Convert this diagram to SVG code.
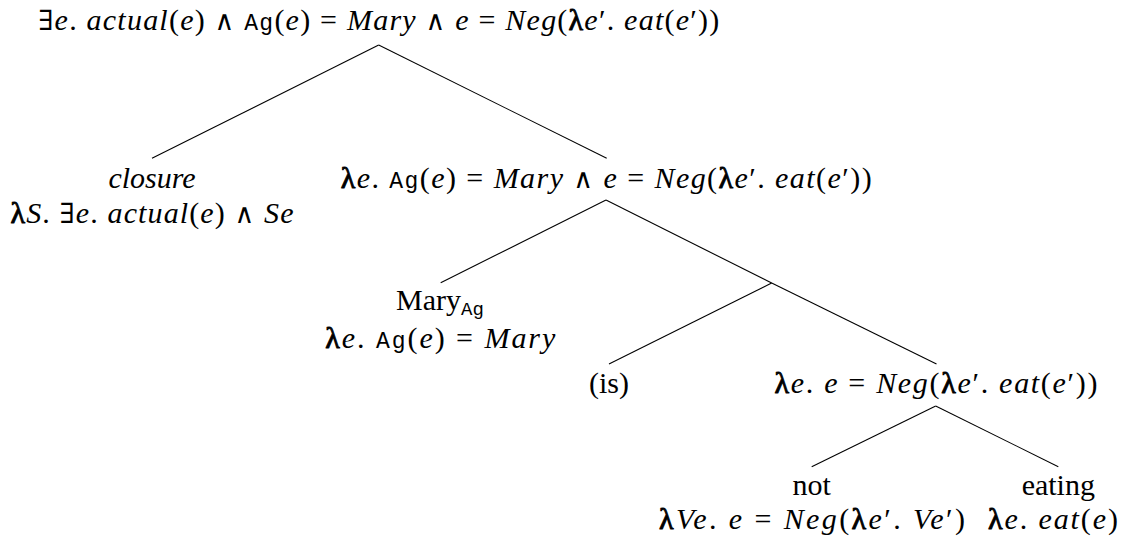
<svg xmlns="http://www.w3.org/2000/svg" width="1131" height="545" viewBox="0 0 1131 545">
<style>
.edge{stroke:#000;stroke-width:1.1;fill:none}
</style>
<rect width="1131" height="545" fill="#fff"/>
<g id="connectors">
<line class="edge" x1="378.7" y1="45" x2="152" y2="158.3"/>
<line class="edge" x1="378.7" y1="45" x2="606.7" y2="158.3"/>
<line class="edge" x1="606" y1="200" x2="440.7" y2="282.7"/>
<line class="edge" x1="606" y1="200" x2="771.7" y2="283"/>
<line class="edge" x1="771.7" y1="283" x2="609" y2="364"/>
<line class="edge" x1="771.7" y1="283" x2="936.5" y2="364"/>
<line class="edge" x1="935.7" y1="406" x2="811.7" y2="466.7"/>
<line class="edge" x1="935.7" y1="406" x2="1058.3" y2="466.7"/>
</g>
<g font-family="Liberation Serif" font-size="30" text-anchor="middle" fill="#000">
<g id="root">
<text x="378.7" y="29.5" textLength="681" lengthAdjust="spacing"><tspan font-family="DejaVu Serif" font-size="28">∃</tspan><tspan font-style="italic">e</tspan>. <tspan font-style="italic">actual</tspan>(<tspan font-style="italic">e</tspan>) <tspan font-family="DejaVu Serif" font-size="27">∧</tspan> <tspan font-family="Liberation Mono" font-size="23">Ag</tspan>(<tspan font-style="italic">e</tspan>) = <tspan font-style="italic">Mary</tspan> <tspan font-family="DejaVu Serif" font-size="27">∧</tspan> <tspan font-style="italic">e</tspan> = <tspan font-style="italic">Neg</tspan>(<tspan stroke="#000" stroke-width="0.9">λ</tspan><tspan font-style="italic">e</tspan>′. <tspan font-style="italic">eat</tspan>(<tspan font-style="italic">e</tspan>′))</text>
</g>
<g id="closure">
<text x="152" y="187.5" font-style="italic">closure</text>
<text x="152" y="223" textLength="283" lengthAdjust="spacing"><tspan stroke="#000" stroke-width="0.9">λ</tspan><tspan font-style="italic">S</tspan>. <tspan font-family="DejaVu Serif" font-size="28">∃</tspan><tspan font-style="italic">e</tspan>. <tspan font-style="italic">actual</tspan>(<tspan font-style="italic">e</tspan>) <tspan font-family="DejaVu Serif" font-size="27">∧</tspan> <tspan font-style="italic">Se</tspan></text>
</g>
<g id="vp">
<text x="606.2" y="187.5" textLength="531" lengthAdjust="spacing"><tspan stroke="#000" stroke-width="0.9">λ</tspan><tspan font-style="italic">e</tspan>. <tspan font-family="Liberation Mono" font-size="23">Ag</tspan>(<tspan font-style="italic">e</tspan>) = <tspan font-style="italic">Mary</tspan> <tspan font-family="DejaVu Serif" font-size="27">∧</tspan> <tspan font-style="italic">e</tspan> = <tspan font-style="italic">Neg</tspan>(<tspan stroke="#000" stroke-width="0.9">λ</tspan><tspan font-style="italic">e</tspan>′. <tspan font-style="italic">eat</tspan>(<tspan font-style="italic">e</tspan>′))</text>
</g>
<g id="mary">
<text x="440" y="309.5">Mary<tspan font-family="Liberation Mono" font-size="19" dy="5">Ag</tspan></text>
<text x="440.3" y="347.5" textLength="230" lengthAdjust="spacing"><tspan stroke="#000" stroke-width="0.9">λ</tspan><tspan font-style="italic">e</tspan>. <tspan font-family="Liberation Mono" font-size="23">Ag</tspan>(<tspan font-style="italic">e</tspan>) = <tspan font-style="italic">Mary</tspan></text>
</g>
<g id="is">
<text x="609" y="393">(is)</text>
</g>
<g id="neg">
<text x="936" y="393" textLength="323" lengthAdjust="spacing"><tspan stroke="#000" stroke-width="0.9">λ</tspan><tspan font-style="italic">e</tspan>. <tspan font-style="italic">e</tspan> = <tspan font-style="italic">Neg</tspan>(<tspan stroke="#000" stroke-width="0.9">λ</tspan><tspan font-style="italic">e</tspan>′. <tspan font-style="italic">eat</tspan>(<tspan font-style="italic">e</tspan>′))</text>
</g>
<g id="not">
<text x="811.7" y="494.5">not</text>
<text x="812" y="529" textLength="306" lengthAdjust="spacing"><tspan stroke="#000" stroke-width="0.9">λ</tspan><tspan font-style="italic">Ve</tspan>. <tspan font-style="italic">e</tspan> = <tspan font-style="italic">Neg</tspan>(<tspan stroke="#000" stroke-width="0.9">λ</tspan><tspan font-style="italic">e</tspan>′. <tspan font-style="italic">Ve</tspan>′)</text>
</g>
<g id="eating">
<text x="1058.3" y="494.5">eating</text>
<text x="1053" y="529" textLength="130" lengthAdjust="spacing"><tspan stroke="#000" stroke-width="0.9">λ</tspan><tspan font-style="italic">e</tspan>. <tspan font-style="italic">eat</tspan>(<tspan font-style="italic">e</tspan>)</text>
</g>
</g>
</svg>
